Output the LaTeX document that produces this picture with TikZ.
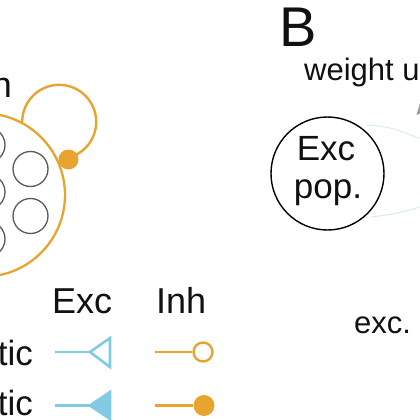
\documentclass[tikz,border=0pt]{standalone}
\usepackage{fontspec}
\setmainfont{Liberation Sans}
\definecolor{orng}{HTML}{E9A42F}
\definecolor{lblue}{HTML}{80CBE3}
\definecolor{cellgray}{HTML}{595959}
\definecolor{faint}{HTML}{D6ECF3}
\definecolor{txt}{HTML}{111111}
\newcommand\myfs[1]{\fontsize{#1}{#1}\selectfont}
\begin{document}
\begin{tikzpicture}[x=1pt,y=-1pt,
  inhline/.style={draw=orng, line width=2.4pt},
  excline/.style={draw=lblue, line width=2.6pt, line join=miter},
  cell/.style={circle, draw=cellgray, line width=1.3pt, minimum size=35pt, inner sep=0pt},
  lab/.style={text=txt, inner sep=0pt},
  dotnode/.style={circle, fill=orng, minimum size=20pt, inner sep=0pt}]
\useasboundingbox (0,0) rectangle (420,420);
\clip (0,0) rectangle (420,420);

% --- panel A (cut) ---
\node[lab, anchor=base east, font=\myfs{36}] (ntxt) at (12,97) {n};
\node[circle, draw=orng, line width=2.3pt, minimum size=163.4pt, inner sep=0pt] (pop) at (-16.7,195) {};
\node[cell] (c1) at (30.5,169) {};
\node[cell] (c2) at (30.5,216) {};
\node[cell] (c3) at (-12.5,145) {};
\node[cell] (c4) at (-12.5,192) {};
\node[cell] (c5) at (-12.5,239) {};
\node[dotnode] (sdot) at (68.5,159.5) {};
\draw[inhline] (pop.62) arc[start angle=180, end angle=436, radius=37];

% --- legend ---
\node[lab, anchor=base west, font=\myfs{36}] (hexc) at (52,313) {Exc};
\node[lab, anchor=base west, font=\myfs{36}] (hinh) at (156,313) {Inh};
\node[lab, anchor=base east, font=\myfs{35}] (r1) at (33,365) {tic};
\node[lab, anchor=base east, font=\myfs{35}] (r2) at (33,415) {tic};

\coordinate (e1a) at (55,352);
\coordinate (e1b) at (90,352);
\draw[excline] (e1a) -- (e1b);
\draw[excline] (e1b) -- (110,338) -- (110,367) -- cycle;
\coordinate (e2a) at (55,405.5);
\coordinate (e2b) at (90,405.5);
\draw[excline] (e2a) -- (e2b);
\filldraw[excline, fill=lblue] (e2b) -- (110,392) -- (110,419) -- cycle;

\node[circle, draw=orng, line width=2.4pt, fill=white, minimum size=19pt, inner sep=0pt] (o1) at (203,352) {};
\coordinate (i1a) at (155,352);
\draw[inhline] (i1a) -- (o1);
\node[dotnode, minimum size=21pt] (o2) at (204,405.5) {};
\coordinate (i2a) at (155,405.5);
\draw[inhline] (i2a) -- (o2);

% --- panel B (cut) ---
\node[lab, anchor=base west, font=\myfs{56}] (B) at (279,47) {B};
\node[lab, anchor=base west, font=\myfs{31}] (wu) at (304,80) {weight u};
\node[circle, draw=black, line width=1.4pt, minimum size=113pt, inner sep=0pt] (excpop) at (327.5,173.5) {};
\node[lab, anchor=base, font=\myfs{35}] (excl1) at (326,160) {Exc};
\node[lab, anchor=base, font=\myfs{35}] (excl2) at (328,198) {pop.};
\node[lab, anchor=base west, font=\myfs{31}] (exc) at (354,333) {exc.};

\coordinate (f1a) at (367,125);
\coordinate (f1b) at (424,140);
\draw[faint, line width=1pt] (f1a) .. controls (390,127) .. (f1b);
\coordinate (f2a) at (371,217);
\coordinate (f2b) at (424,206);
\draw[faint, line width=1pt] (f2a) .. controls (395,214) .. (f2b);
\fill[gray!80] (416.5,115) -- (420,103) -- (423,112) -- cycle;
\end{tikzpicture}
\end{document}
